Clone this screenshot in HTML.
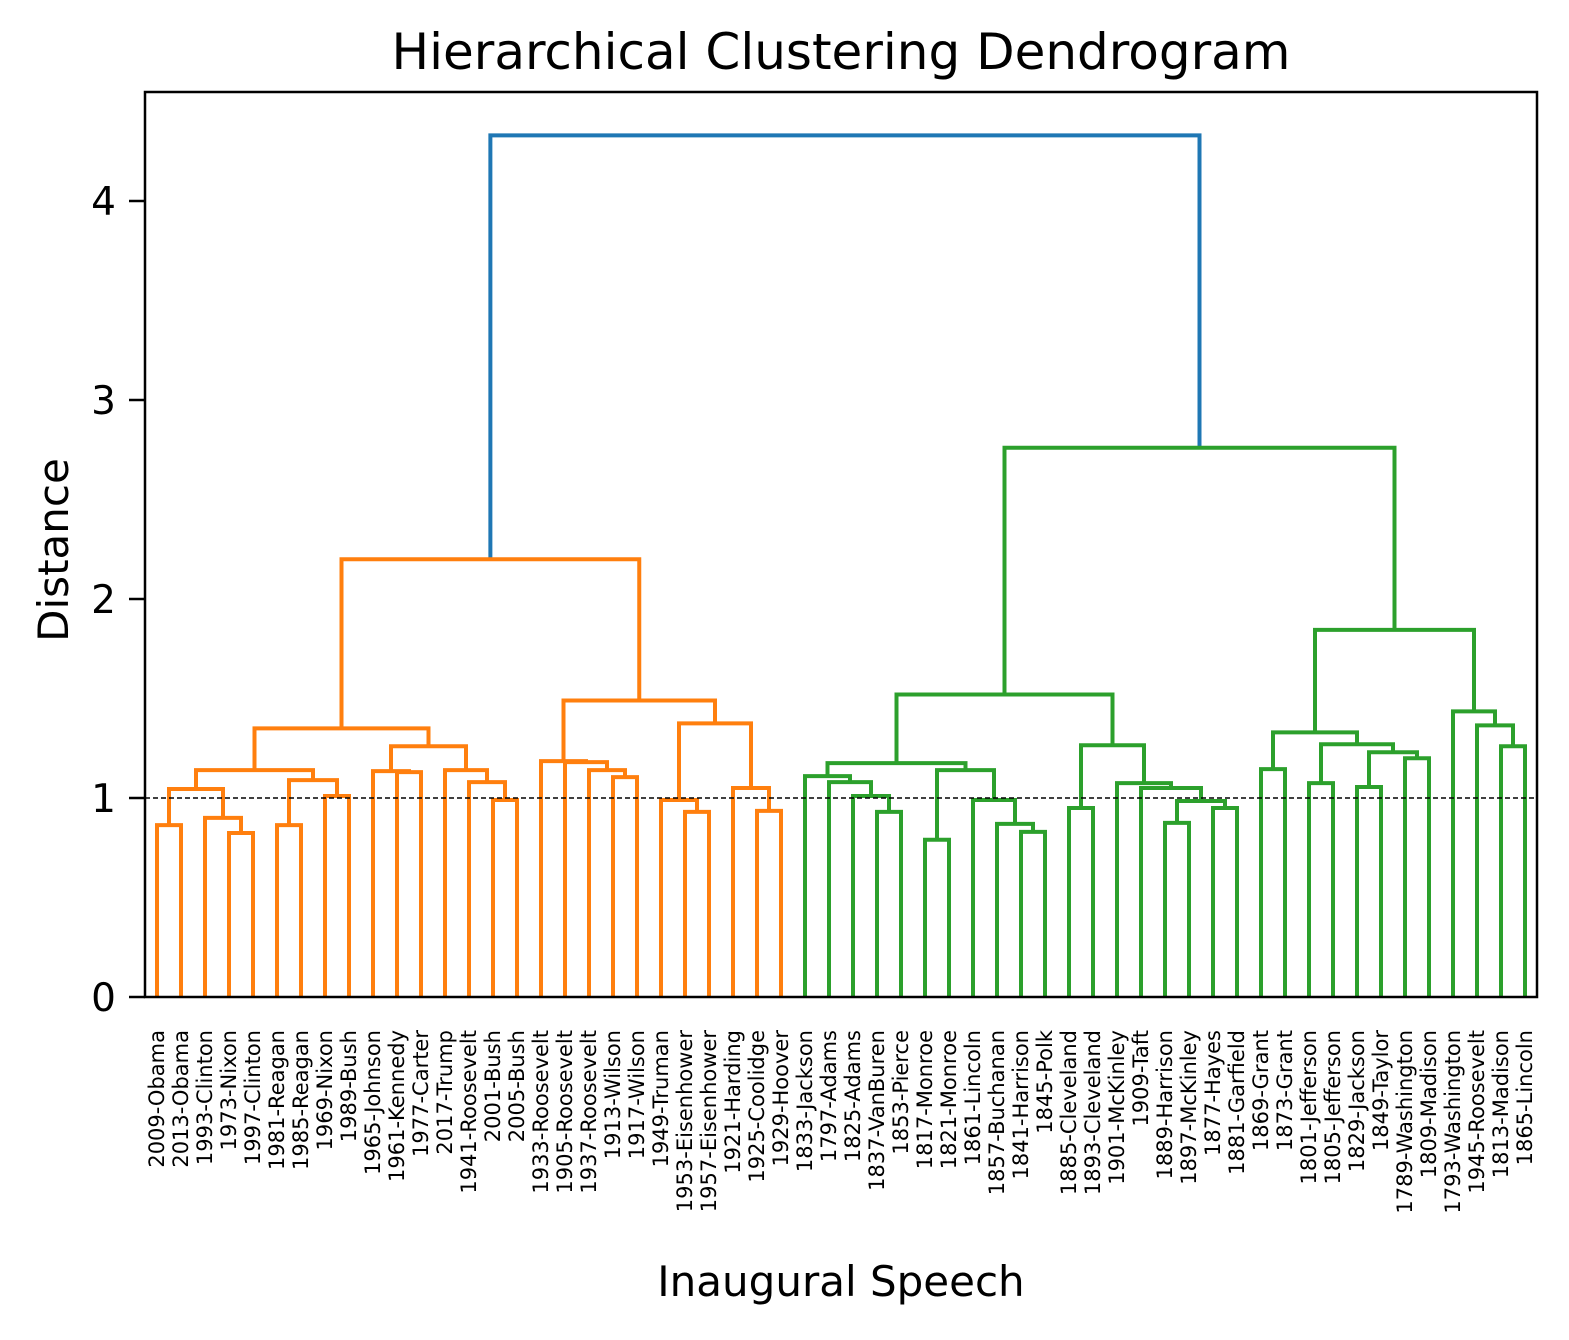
<!DOCTYPE html>
<html><head><meta charset="utf-8"><style>
html,body{margin:0;padding:0;background:#fff}
svg text{font-family:"DejaVu Sans","Liberation Sans",sans-serif;fill:#000}
</style></head><body>
<svg id="chart" xmlns="http://www.w3.org/2000/svg" width="1569" height="1335" viewBox="0 0 1569 1335">
<rect width="1569" height="1335" fill="#fff"/>
<text x="841" y="69" font-size="50" text-anchor="middle">Hierarchical Clustering Dendrogram</text>
<text transform="translate(68,550) rotate(-90)" font-size="42" text-anchor="middle">Distance</text>
<text x="841" y="1296" font-size="42" text-anchor="middle">Inaugural Speech</text>
<g id="marks"></g>
<rect x="145" y="92" width="1392" height="905" fill="none" stroke="#000" stroke-width="2.5"/>
</svg>
<script>
const leafLabels = ["2009-Obama","2013-Obama","1993-Clinton","1973-Nixon","1997-Clinton","1981-Reagan","1985-Reagan","1969-Nixon","1989-Bush","1965-Johnson","1961-Kennedy","1977-Carter","2017-Trump","1941-Roosevelt","2001-Bush","2005-Bush","1933-Roosevelt","1905-Roosevelt","1937-Roosevelt","1913-Wilson","1917-Wilson","1949-Truman","1953-Eisenhower","1957-Eisenhower","1921-Harding","1925-Coolidge","1929-Hoover","1833-Jackson","1797-Adams","1825-Adams","1837-VanBuren","1853-Pierce","1817-Monroe","1821-Monroe","1861-Lincoln","1857-Buchanan","1841-Harrison","1845-Polk","1885-Cleveland","1893-Cleveland","1901-McKinley","1909-Taft","1889-Harrison","1897-McKinley","1877-Hayes","1881-Garfield","1869-Grant","1873-Grant","1801-Jefferson","1805-Jefferson","1829-Jackson","1849-Taylor","1789-Washington","1809-Madison","1793-Washington","1945-Roosevelt","1813-Madison","1865-Lincoln"];
const mergeA = [0,3,2,58,5,7,62,61,10,9,14,13,12,67,65,19,18,17,16,22,21,25,24,78,76,72,30,29,28,27,32,36,35,34,88,87,38,42,44,95,41,40,94,93,46,48,50,52,104,103,102,56,55,54,108,101,83];
const mergeB = [1,4,59,60,6,8,63,64,11,66,15,68,69,70,71,20,73,74,75,23,77,26,79,80,81,82,31,84,85,86,33,37,89,90,91,92,39,43,45,96,97,98,99,100,47,49,51,53,105,106,107,57,109,110,111,112,113];
const mergeHeight = [0.864,0.824,0.90,1.045,0.864,1.01,1.09,1.14,1.13,1.135,0.99,1.08,1.14,1.26,1.35,1.105,1.14,1.18,1.185,0.93,0.99,0.935,1.05,1.375,1.49,2.2,0.93,1.01,1.08,1.11,0.79,0.83,0.87,0.99,1.14,1.175,0.95,0.875,0.95,0.985,1.05,1.075,1.265,1.52,1.145,1.075,1.055,1.2,1.23,1.27,1.33,1.26,1.365,1.435,1.845,2.76,4.33];
const yTicks = [0,1,2,3,4];
const cutLine = 1;

const NS = "http://www.w3.org/2000/svg";
const svg = document.getElementById('chart');
const g = document.getElementById('marks');
const N = leafLabels.length;
const X0 = 145, X1 = 1537, Y0 = 997, PXU = 199;
const xs = v => X0 + (v / (10 * N)) * (X1 - X0);
const ys = d => Y0 - d * PXU;
const palette = ["#ff7f0e","#2ca02c","#d62728","#9467bd"];
const above = "#1f77b4";
const thresh = 0.7 * Math.max(...mergeHeight);

const order = [];
function trav(id){ if(id < N){ order.push(id); return; } const k=id-N; trav(mergeA[k]); trav(mergeB[k]); }
trav(N + mergeA.length - 1);
const pos = {}; order.forEach((leaf,i)=>pos[leaf]=10*i+5);
const nodeX = id => { if(id<N) return pos[id]; const k=id-N; return (nodeX(mergeA[k])+nodeX(mergeB[k]))/2; };
const nodeH = id => id<N ? 0 : mergeHeight[id-N];

let colorIdx = 0;
function draw(id, color){
  if(id < N) return;
  const k = id - N, h = mergeHeight[k];
  let c = color;
  if(h >= thresh) c = above;
  else if(!color){ c = palette[colorIdx++ % palette.length]; }
  const a = mergeA[k], b = mergeB[k];
  const xa = xs(nodeX(a)), xb = xs(nodeX(b));
  const p = document.createElementNS(NS,'path');
  p.setAttribute('d', `M${xa},${ys(nodeH(a))}V${ys(h)}H${xb}V${ys(nodeH(b))}`);
  p.setAttribute('fill','none'); p.setAttribute('stroke',c); p.setAttribute('stroke-width','4');
  
  
  g.appendChild(p);
  const childColor = h >= thresh ? null : c;
  draw(a, childColor); draw(b, childColor);
}
draw(N + mergeA.length - 1, null);

const cl = document.createElementNS(NS,'line');
cl.setAttribute('x1',X0); cl.setAttribute('x2',X1); cl.setAttribute('y1',ys(cutLine)); cl.setAttribute('y2',ys(cutLine));
cl.setAttribute('stroke','#000'); cl.setAttribute('stroke-width','1.5'); cl.setAttribute('stroke-dasharray','5,3');


g.appendChild(cl);

yTicks.forEach(t=>{
  const y = ys(t);
  const ln = document.createElementNS(NS,'line');
  ln.setAttribute('x1',X0-16); ln.setAttribute('x2',X0); ln.setAttribute('y1',y); ln.setAttribute('y2',y);
  ln.setAttribute('stroke','#000'); ln.setAttribute('stroke-width','2.5');
  
  
  svg.appendChild(ln);
  const tx = document.createElementNS(NS,'text');
  tx.setAttribute('x',X0-29); tx.setAttribute('y',y+14); tx.setAttribute('font-size','39'); tx.setAttribute('text-anchor','end');
  tx.textContent = t;
  
  
  svg.appendChild(tx);
});

order.forEach((leaf,i)=>{
  const x = xs(10*i+5);
  const tx = document.createElementNS(NS,'text');
  tx.setAttribute('transform',`translate(${x+7},1030) rotate(-90)`);
  tx.setAttribute('font-size','21'); tx.setAttribute('text-anchor','end');
  tx.textContent = leafLabels[leaf];
  
  
  svg.appendChild(tx);
});
</script>
</body></html>
